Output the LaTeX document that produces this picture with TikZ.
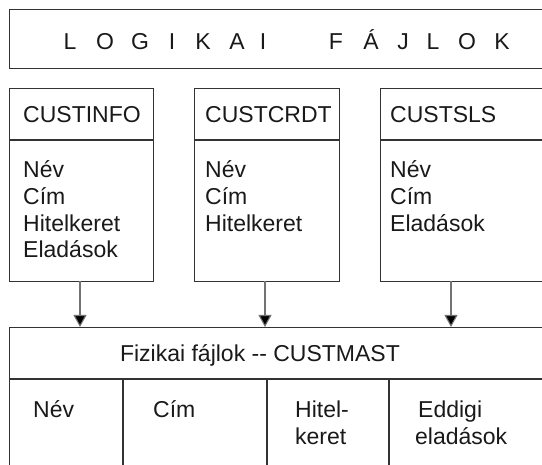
\documentclass[tikz,border=0pt]{standalone}
\usepackage{fontspec}
\setmainfont{Liberation Sans}
\usetikzlibrary{arrows.meta,calc}
\begin{document}
\begin{tikzpicture}[x=1pt,y=-1pt,
  boxline/.style={draw=black!80,line width=1.1pt},
  lbl/.style={inner sep=0pt,anchor=base west,font=\fontsize{23}{27}\selectfont,text=black!90},
  clbl/.style={inner sep=0pt,anchor=base,font=\fontsize{23}{27}\selectfont,text=black!90},
  conn/.style={draw=black!55,line width=1.1pt,-{Triangle[length=12pt,width=13pt,fill=black]}}]
\useasboundingbox (0,0) rectangle (542,465);
% top box
\node[boxline,anchor=north west,minimum width=560pt,minimum height=59pt,inner sep=0pt] (top) at (9,9) {};
\foreach \c/\x [count=\i] in {L/70,O/105,G/140,I/172,K/203,A/237,I/263,F/336,Á/371,J/403,L/433,O/467,K/502}
  \node[clbl] (t\i) at (\x,50) {\c};
% logical boxes
\node[boxline,anchor=north west,minimum width=144pt,minimum height=193pt,inner sep=0pt] (b1) at (9,88) {};
\node[boxline,anchor=north west,minimum width=145pt,minimum height=193pt,inner sep=0pt] (b2) at (194,88) {};
\node[boxline,anchor=north west,minimum width=200pt,minimum height=193pt,inner sep=0pt] (b3) at (380,88) {};
\draw[boxline] (9,140) -- (153,140);
\draw[boxline] (194,140) -- (339,140);
\draw[boxline] (380,140) -- (580,140);
\node[lbl] (h1) at (23,123) {CUSTINFO};
\node[lbl] (h2) at (205,123) {CUSTCRDT};
\node[lbl] (h3) at (390,123) {CUSTSLS};
\node[lbl] (n1) at (23,178) {Név};
\node[lbl] (c1) at (23,205) {Cím};
\node[lbl] (k1) at (23,232) {Hitelkeret};
\node[lbl] (e1) at (23,258) {Eladások};
\node[lbl] (n2) at (205,178) {Név};
\node[lbl] (c2) at (205,205) {Cím};
\node[lbl] (k2) at (205,232) {Hitelkeret};
\node[lbl] (n3) at (390,178) {Név};
\node[lbl] (c3) at (390,205) {Cím};
\node[lbl] (e3) at (390,232) {Eladások};
% physical box
\node[boxline,anchor=north west,minimum width=560pt,minimum height=160pt,inner sep=0pt] (phys) at (9,327) {};
\draw[boxline] (9,379) -- (580,379);
\draw[boxline] (123,379) -- (123,490);
\draw[boxline] (267,379) -- (267,490);
\draw[boxline] (389,379) -- (389,490);
\node[clbl] (ptitle) at (260,362) {Fizikai fájlok {-}{-} CUSTMAST};
\node[lbl] (pn) at (33,418) {Név};
\node[lbl] (pc) at (153,418) {Cím};
\node[lbl] (ph1) at (295,418) {Hitel-};
\node[lbl] (ph2) at (295,445) {keret};
\node[lbl] (pe1) at (418,418) {Eddigi};
\node[lbl] (pe2) at (415,445) {eladások};
% connectors
\coordinate (s1) at (80,281);
\coordinate (s2) at (265,281);
\coordinate (s3) at (451,281);
\draw[conn] (s1) -- (s1 |- phys.north);
\draw[conn] (s2) -- (s2 |- phys.north);
\draw[conn] (s3) -- (s3 |- phys.north);
\end{tikzpicture}
\end{document}
